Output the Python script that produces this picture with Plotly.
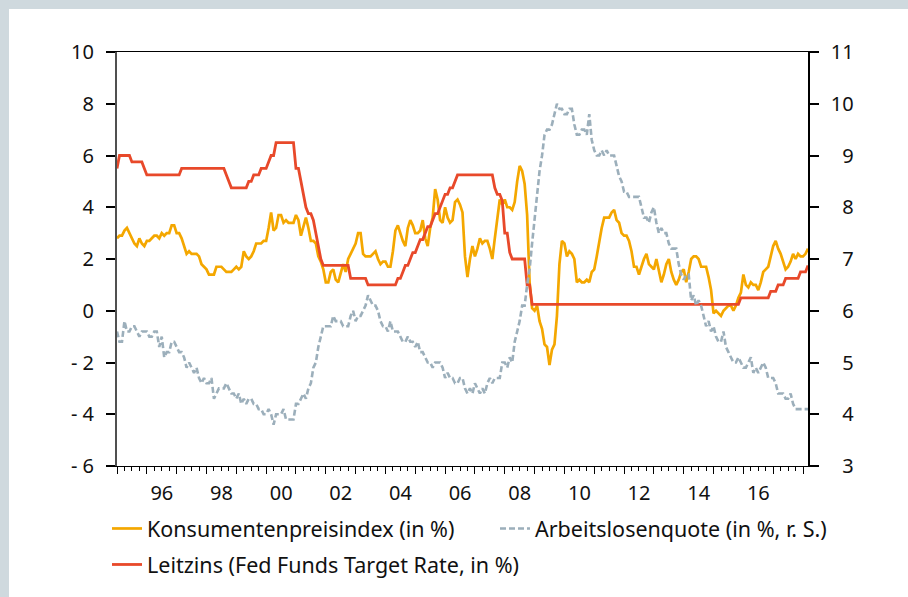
import plotly.graph_objects as go

# monthly data, Jan 1995 - Mar 2018
YEARS = list(range(1995, 2019))

cpi = [
    2.8, 2.9, 2.9, 3.1, 3.2, 3.0, 2.8, 2.6, 2.5, 2.8, 2.6, 2.5,
    2.7, 2.7, 2.8, 2.9, 2.9, 2.8, 3.0, 2.9, 3.0, 3.0, 3.3, 3.3,
    3.0, 3.0, 2.8, 2.5, 2.2, 2.3, 2.2, 2.2, 2.2, 2.1, 1.8, 1.7,
    1.6, 1.4, 1.4, 1.4, 1.7, 1.7, 1.7, 1.6, 1.5, 1.5, 1.5, 1.6,
    1.7, 1.6, 1.7, 2.3, 2.1, 2.0, 2.1, 2.3, 2.6, 2.6, 2.6, 2.7,
    2.7, 3.2, 3.8, 3.1, 3.2, 3.7, 3.7, 3.4, 3.5, 3.4, 3.4, 3.4,
    3.7, 3.5, 2.9, 3.3, 3.6, 3.2, 2.7, 2.7, 2.6, 2.1, 1.9, 1.6,
    1.1, 1.1, 1.5, 1.6, 1.2, 1.1, 1.5, 1.8, 1.5, 2.0, 2.2, 2.4,
    2.6, 3.0, 3.0, 2.2, 2.1, 2.1, 2.1, 2.2, 2.3, 2.0, 1.8, 1.9,
    1.9, 1.7, 1.7, 2.3, 3.1, 3.3, 3.0, 2.7, 2.5, 3.2, 3.5, 3.3,
    3.0, 3.0, 3.1, 3.5, 2.8, 2.5, 3.2, 3.6, 4.7, 4.3, 3.5, 3.4,
    4.0, 3.6, 3.4, 3.5, 4.2, 4.3, 4.1, 3.8, 2.1, 1.3, 2.0, 2.5,
    2.1, 2.4, 2.8, 2.6, 2.7, 2.7, 2.4, 2.0, 2.8, 3.5, 4.3, 4.1,
    4.3, 4.0, 4.0, 3.9, 4.2, 5.0, 5.6, 5.4, 4.9, 3.7, 1.1, 0.1,
    0.0, 0.2, -0.4, -0.7, -1.3, -1.4, -2.1, -1.5, -1.3, -0.2, 1.8, 2.7,
    2.6, 2.1, 2.3, 2.2, 2.0, 1.1, 1.2, 1.1, 1.1, 1.2, 1.1, 1.5,
    1.6, 2.1, 2.7, 3.2, 3.6, 3.6, 3.6, 3.8, 3.9, 3.5, 3.4, 3.0,
    2.9, 2.9, 2.7, 2.3, 1.7, 1.7, 1.4, 1.7, 2.0, 2.2, 1.8, 1.7,
    1.6, 2.0, 1.5, 1.1, 1.4, 1.8, 2.0, 1.5, 1.2, 1.0, 1.2, 1.5,
    1.6, 1.1, 1.5, 2.0, 2.1, 2.1, 2.0, 1.7, 1.7, 1.7, 1.3, 0.8,
    -0.1, 0.0, -0.1, -0.2, 0.0, 0.1, 0.2, 0.2, 0.0, 0.2, 0.5, 0.7,
    1.4, 1.0, 0.9, 1.1, 1.0, 1.0, 0.8, 1.1, 1.5, 1.6, 1.7, 2.1,
    2.5, 2.7, 2.4, 2.2, 1.9, 1.6, 1.7, 1.9, 2.2, 2.0, 2.2, 2.1,
    2.1, 2.2, 2.4,
]

unemployment = [
    5.6, 5.4, 5.4, 5.8, 5.6, 5.6, 5.7, 5.7, 5.6, 5.5, 5.6, 5.6,
    5.6, 5.5, 5.5, 5.6, 5.6, 5.3, 5.5, 5.1, 5.2, 5.2, 5.4, 5.4,
    5.3, 5.2, 5.2, 5.1, 4.9, 5.0, 4.9, 4.8, 4.9, 4.7, 4.6, 4.7,
    4.6, 4.6, 4.7, 4.3, 4.4, 4.5, 4.5, 4.5, 4.6, 4.5, 4.4, 4.4,
    4.3, 4.4, 4.2, 4.3, 4.2, 4.3, 4.3, 4.2, 4.2, 4.1, 4.1, 4.0,
    4.0, 4.1, 4.0, 3.8, 4.0, 4.0, 4.0, 4.1, 3.9, 3.9, 3.9, 3.9,
    4.2, 4.2, 4.3, 4.4, 4.3, 4.5, 4.6, 4.9, 5.0, 5.3, 5.5, 5.7,
    5.7, 5.7, 5.7, 5.9, 5.8, 5.8, 5.8, 5.7, 5.7, 5.7, 5.9, 6.0,
    5.8, 5.9, 5.9, 6.0, 6.1, 6.3, 6.2, 6.1, 6.1, 6.0, 5.8, 5.7,
    5.7, 5.6, 5.8, 5.6, 5.6, 5.6, 5.5, 5.4, 5.4, 5.5, 5.4, 5.4,
    5.3, 5.4, 5.2, 5.2, 5.1, 5.0, 5.0, 4.9, 5.0, 5.0, 5.0, 4.9,
    4.7, 4.8, 4.7, 4.7, 4.6, 4.6, 4.7, 4.7, 4.5, 4.4, 4.5, 4.4,
    4.6, 4.5, 4.4, 4.5, 4.4, 4.6, 4.7, 4.6, 4.7, 4.7, 4.7, 5.0,
    5.0, 4.9, 5.1, 5.0, 5.4, 5.6, 5.8, 6.1, 6.1, 6.5, 6.8, 7.3,
    7.8, 8.3, 8.7, 9.0, 9.4, 9.5, 9.5, 9.6, 9.8, 10.0, 9.9, 9.9,
    9.8, 9.8, 9.9, 9.9, 9.6, 9.4, 9.4, 9.5, 9.5, 9.4, 9.8, 9.3,
    9.1, 9.0, 9.0, 9.1, 9.0, 9.1, 9.0, 9.0, 9.0, 8.8, 8.6, 8.5,
    8.3, 8.3, 8.2, 8.2, 8.2, 8.2, 8.2, 8.0, 7.8, 7.8, 7.7, 7.9,
    8.0, 7.7, 7.5, 7.6, 7.5, 7.5, 7.3, 7.2, 7.2, 7.2, 6.9, 6.7,
    6.6, 6.7, 6.7, 6.2, 6.3, 6.1, 6.2, 6.1, 5.9, 5.7, 5.8, 5.6,
    5.7, 5.5, 5.4, 5.4, 5.6, 5.3, 5.2, 5.1, 5.0, 5.0, 5.1, 5.0,
    4.9, 4.9, 5.0, 5.1, 4.8, 4.9, 4.8, 4.9, 5.0, 4.9, 4.7, 4.7,
    4.7, 4.6, 4.4, 4.4, 4.4, 4.3, 4.3, 4.4, 4.2, 4.1, 4.1, 4.1,
    4.1, 4.1, 4.1,
]

fed_rate = [
    5.5, 6.0, 6.0, 6.0, 6.0, 6.0, 5.75, 5.75, 5.75, 5.75, 5.75, 5.5,
    5.25, 5.25, 5.25, 5.25, 5.25, 5.25, 5.25, 5.25, 5.25, 5.25, 5.25, 5.25,
    5.25, 5.25, 5.5, 5.5, 5.5, 5.5, 5.5, 5.5, 5.5, 5.5, 5.5, 5.5,
    5.5, 5.5, 5.5, 5.5, 5.5, 5.5, 5.5, 5.5, 5.25, 5.0, 4.75, 4.75,
    4.75, 4.75, 4.75, 4.75, 4.75, 5.0, 5.0, 5.25, 5.25, 5.25, 5.5, 5.5,
    5.5, 5.75, 6.0, 6.0, 6.5, 6.5, 6.5, 6.5, 6.5, 6.5, 6.5, 6.5,
    5.5, 5.5, 5.0, 4.5, 4.0, 3.75, 3.75, 3.5, 3.0, 2.5, 2.0, 1.75,
    1.75, 1.75, 1.75, 1.75, 1.75, 1.75, 1.75, 1.75, 1.75, 1.75, 1.25, 1.25,
    1.25, 1.25, 1.25, 1.25, 1.25, 1.0, 1.0, 1.0, 1.0, 1.0, 1.0, 1.0,
    1.0, 1.0, 1.0, 1.0, 1.0, 1.25, 1.25, 1.5, 1.75, 1.75, 2.0, 2.25,
    2.25, 2.5, 2.75, 2.75, 3.0, 3.25, 3.25, 3.5, 3.75, 3.75, 4.0, 4.25,
    4.5, 4.5, 4.75, 4.75, 5.0, 5.25, 5.25, 5.25, 5.25, 5.25, 5.25, 5.25,
    5.25, 5.25, 5.25, 5.25, 5.25, 5.25, 5.25, 5.25, 4.75, 4.5, 4.5, 4.25,
    3.0, 3.0, 2.25, 2.0, 2.0, 2.0, 2.0, 2.0, 2.0, 1.0, 1.0, 0.25,
    0.25, 0.25, 0.25, 0.25, 0.25, 0.25, 0.25, 0.25, 0.25, 0.25, 0.25, 0.25,
    0.25, 0.25, 0.25, 0.25, 0.25, 0.25, 0.25, 0.25, 0.25, 0.25, 0.25, 0.25,
    0.25, 0.25, 0.25, 0.25, 0.25, 0.25, 0.25, 0.25, 0.25, 0.25, 0.25, 0.25,
    0.25, 0.25, 0.25, 0.25, 0.25, 0.25, 0.25, 0.25, 0.25, 0.25, 0.25, 0.25,
    0.25, 0.25, 0.25, 0.25, 0.25, 0.25, 0.25, 0.25, 0.25, 0.25, 0.25, 0.25,
    0.25, 0.25, 0.25, 0.25, 0.25, 0.25, 0.25, 0.25, 0.25, 0.25, 0.25, 0.25,
    0.25, 0.25, 0.25, 0.25, 0.25, 0.25, 0.25, 0.25, 0.25, 0.25, 0.25, 0.5,
    0.5, 0.5, 0.5, 0.5, 0.5, 0.5, 0.5, 0.5, 0.5, 0.5, 0.5, 0.75,
    0.75, 0.75, 1.0, 1.0, 1.0, 1.25, 1.25, 1.25, 1.25, 1.25, 1.25, 1.5,
    1.5, 1.5, 1.75,
]

x_labels = ["", "96", "", "98", "", "00", "", "02", "", "04", "", "06", "",
            "08", "", "10", "", "12", "", "14", "", "16", "", ""]
left_ticks = [-6, -4, -2, 0, 2, 4, 6, 8, 10]
left_text = ["- 6", "- 4", "- 2", "0", "2", "4", "6", "8", "10"]
right_ticks = [3, 4, 5, 6, 7, 8, 9, 10, 11]
right_text = ["\u2007" + str(v) if v < 10 else str(v) for v in right_ticks]

# decimal-year x positions for each month
months = [y + m / 12 for y in YEARS for m in range(12)][:len(cpi)]

FONT = "Noto Sans"
ORANGE = "#f4a700"
RED = "#e8492a"
GRAY = "#9cafbb"
FRAME = "#cfd9de"

fig = go.Figure()

fig.add_trace(go.Scatter(
    x=months, y=cpi, mode="lines", name="Konsumentenpreisindex (in %)",
    line=dict(color=ORANGE, width=2.7), legend="legend", legendrank=1,
))
fig.add_trace(go.Scatter(
    x=months, y=fed_rate, mode="lines",
    name="Leitzins (Fed Funds Target Rate, in %)",
    line=dict(color=RED, width=2.8), legend="legend2",
))
fig.add_trace(go.Scatter(
    x=months, y=unemployment, mode="lines", yaxis="y2",
    name="Arbeitslosenquote (in %, r. S.)",
    line=dict(color=GRAY, width=2.6, dash="6px,3px"),
    legend="legend", legendrank=2,
))

L, R, T, B = 117, 100, 52, 131
W, H = 908, 597
pw, ph = W - L - R, H - T - B


def px_x(px):
    return (px - L) / pw


def px_y(py):
    return (H - B - py) / ph


fig.update_layout(
    width=W, height=H,
    margin=dict(l=L, r=R, t=T, b=B, pad=0),
    paper_bgcolor="white", plot_bgcolor="white",
    font=dict(family=FONT, size=20, color="#111111"),
    showlegend=True,
    xaxis=dict(
        range=[1995, 2018 + 2 / 12],
        tickmode="array", tickvals=YEARS, ticktext=x_labels,
        ticks="outside", ticklen=7, tickwidth=1, tickcolor="black",
        ticklabelshift=15, ticklabelstandoff=2,
        minor=dict(dtick=0.25, tick0=1995, ticks="outside", ticklen=4,
                   tickwidth=1, tickcolor="black"),
        showline=True, linecolor="black", linewidth=1, mirror=True,
        showgrid=False, zeroline=False,
    ),
    yaxis=dict(
        range=[-6, 10], tickmode="array", tickvals=left_ticks, ticktext=left_text,
        ticks="outside", ticklen=9, tickwidth=1.5, tickcolor="black",
        ticklabelstandoff=8,
        showline=True, linecolor="#505050", linewidth=2,
        showgrid=False, zeroline=False,
    ),
    yaxis2=dict(
        range=[3, 11], overlaying="y", side="right",
        tickmode="array", tickvals=right_ticks, ticktext=right_text,
        ticks="outside", ticklen=9, tickwidth=1.5, tickcolor="black",
        ticklabelstandoff=8,
        showline=True, linecolor="black", linewidth=1.5,
        showgrid=False, zeroline=False,
    ),
    legend=dict(
        orientation="h", x=px_x(107), y=px_y(508), xanchor="left", yanchor="top",
        entrywidth=343, bgcolor="rgba(0,0,0,0)", font=dict(size=21.5),
    ),
    legend2=dict(
        orientation="h", x=px_x(107), y=px_y(544), xanchor="left", yanchor="top",
        bgcolor="rgba(0,0,0,0)", font=dict(size=21.5),
    ),
    shapes=[
        dict(type="rect", xref="paper", yref="paper", layer="below",
             x0=px_x(0), x1=px_x(9), y0=px_y(H), y1=px_y(0),
             fillcolor=FRAME, line=dict(width=0)),
        dict(type="rect", xref="paper", yref="paper", layer="below",
             x0=px_x(0), x1=px_x(W), y0=px_y(9), y1=px_y(0),
             fillcolor=FRAME, line=dict(width=0)),
    ],
)

fig.write_html("out.html", config={"displayModeBar": False},
               post_script="document.body.style.margin='0';")
